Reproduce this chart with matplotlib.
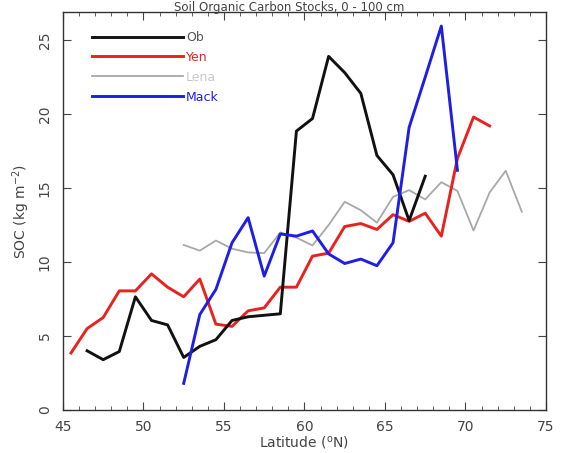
import matplotlib
matplotlib.use("Agg")
import matplotlib.pyplot as plt
from matplotlib.ticker import MultipleLocator

lat_ob = [46.5, 47.5, 48.5, 49.5, 50.5, 51.5, 52.5, 53.5, 54.5, 55.5, 56.5, 57.5,
          58.5, 59.5, 60.5, 61.5, 62.5, 63.5, 64.5, 65.5, 66.5, 67.5]
soc_ob = [4.0, 3.4, 3.95, 7.65, 6.05, 5.75, 3.55, 4.3, 4.75, 6.05, 6.3, 6.4,
          6.5, 18.85, 19.7, 23.9, 22.8, 21.4, 17.2, 15.9, 12.8, 15.8]

lat_yen = [45.5, 46.5, 47.5, 48.5, 49.5, 50.5, 51.5, 52.5, 53.5, 54.5, 55.5, 56.5,
           57.5, 58.5, 59.5, 60.5, 61.5, 62.5, 63.5, 64.5, 65.5, 66.5, 67.5, 68.5,
           69.5, 70.5, 71.5]
soc_yen = [3.85, 5.5, 6.25, 8.05, 8.05, 9.2, 8.3, 7.65, 8.85, 5.8, 5.65, 6.7,
           6.9, 8.3, 8.3, 10.4, 10.6, 12.4, 12.6, 12.2, 13.2, 12.75, 13.3, 11.75,
           17.0, 19.8, 19.2]

lat_lena = [52.5, 53.5, 54.5, 55.5, 56.5, 57.5, 58.5, 59.5, 60.5, 61.5, 62.5, 63.5,
            64.5, 65.5, 66.5, 67.5, 68.5, 69.5, 70.5, 71.5, 72.5, 73.5]
soc_lena = [11.15, 10.77, 11.45, 10.9, 10.65, 10.6, 12.0, 11.65, 11.12, 12.5, 14.07, 13.5,
            12.66, 14.4, 14.86, 14.23, 15.4, 14.8, 12.13, 14.7, 16.17, 13.4]

lat_mack = [52.5, 53.5, 54.5, 55.5, 56.5, 57.5, 58.5, 59.5, 60.5, 61.5, 62.5, 63.5,
            64.5, 65.5, 66.5, 67.5, 68.5, 69.5]
soc_mack = [1.8, 6.45, 8.15, 11.3, 13.0, 9.05, 11.9, 11.75, 12.1, 10.55, 9.9, 10.2,
            9.75, 11.3, 19.1, 22.5, 25.95, 16.2]

fig = plt.figure(figsize=(5.62, 4.53), dpi=100)
ax = fig.add_axes([0.112, 0.095, 0.8595, 0.8785])

c_ob = "#111111"
c_yen = "#e8221e"
c_lena = "#a8a8a8"
c_mack = "#1e1ee6"

ax.plot(lat_lena, soc_lena, color=c_lena, lw=1.3, label="Lena", zorder=2)
ax.plot(lat_yen, soc_yen, color=c_yen, lw=2.1, label="Yen", zorder=3)
ax.plot(lat_ob, soc_ob, color=c_ob, lw=2.1, label="Ob", zorder=4)
ax.plot(lat_mack, soc_mack, color=c_mack, lw=2.1, label="Mack", zorder=5)

ax.set_xlim(45, 75)
ax.set_ylim(0, 26.9)
ax.xaxis.set_major_locator(MultipleLocator(5))
ax.xaxis.set_minor_locator(MultipleLocator(1))
ax.yaxis.set_major_locator(MultipleLocator(5))

tc = "#444444"
ax.tick_params(axis="x", which="major", direction="in", length=6, top=True,
               labelsize=10, pad=7, colors=tc)
ax.tick_params(axis="x", which="minor", direction="in", length=3, top=True, colors=tc)
ax.tick_params(axis="y", which="major", direction="in", length=6, right=True,
               labelsize=10, pad=8, colors=tc, labelrotation=90)
for lab in ax.get_yticklabels():
    lab.set_va("center")
for s in ax.spines.values():
    s.set_color("#333333")
    s.set_linewidth(1.0)

ax.set_xlabel("Latitude ($^{\\mathrm{o}}$N)", fontsize=10, color=tc, labelpad=0)
ax.set_ylabel("SOC (kg m$^{-2}$)", fontsize=10, color=tc, labelpad=4)

handles, labels = ax.get_legend_handles_labels()
order = [labels.index(n) for n in ["Ob", "Yen", "Lena", "Mack"]]
leg = ax.legend([handles[i] for i in order], [labels[i] for i in order],
                loc="upper left", bbox_to_anchor=(0.05, 0.965), frameon=False,
                handlelength=7.3, handletextpad=0.2, labelspacing=0.55,
                fontsize=9, borderaxespad=0)
for txt, col in zip(leg.get_texts(), ["#555555", c_yen, "#c8c8c8", c_mack]):
    txt.set_color(col)

fig.text(0.515, 0.998, "Soil Organic Carbon Stocks, 0 - 100 cm", ha="center",
         va="top", fontsize=8.5, color=tc)

fig.savefig("out.png", dpi=100)
